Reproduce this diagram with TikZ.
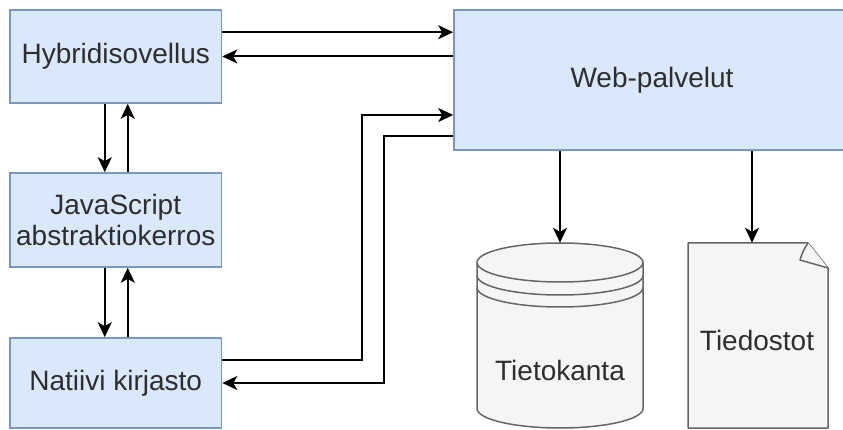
\documentclass[tikz,border=0pt]{standalone}
\usepackage{fontspec}
\setmainfont{Liberation Sans}
\usetikzlibrary{arrows.meta,calc}

\definecolor{boxfill}{HTML}{DAE8FC}
\definecolor{boxline}{HTML}{7C96BD}
\definecolor{storefill}{HTML}{F5F5F5}
\definecolor{storeline}{HTML}{666666}
\definecolor{ink}{HTML}{2E2E2E}

\begin{document}
\begin{tikzpicture}[x=1pt,y=-1pt,
  txt/.style={text=ink, font=\fontsize{28}{31}\selectfont, align=center, inner sep=0pt},
  box/.style={txt, draw=boxline, fill=boxfill, line width=1.6pt},
  anchorbox/.style={inner sep=0pt},
  store/.style={draw=storeline, fill=storefill, line width=1.5pt, line join=round},
  conn/.style={draw=black, line width=2pt,
    -{Stealth[length=15pt, width=14pt, inset=4pt]}}]

\useasboundingbox (0,0) rectangle (843,430);
\clip (0,0) rectangle (843,430);

% left column: app, abstraction layer, native library
\node[box, minimum width=211.5pt, minimum height=93pt] (hyb) at (115.75,56.5) {Hybridisovellus};
\node[box, minimum width=211.5pt, minimum height=94pt] (js) at (115.75,220) {JavaScript\\abstraktiokerros};
\node[box, minimum width=211.5pt, minimum height=90pt] (nat) at (115.75,383) {Natiivi kirjasto};

% web services (runs past the right edge)
\node[box, minimum width=396pt, minimum height=140pt] (web) at (652,80) {Web-palvelut};

% frames for the two stores
\node[anchorbox, minimum width=166pt, minimum height=185pt] (db) at (560,335.5) {};
\node[anchorbox, minimum width=140pt, minimum height=185pt] (doc) at (758,335.5) {};

% database cylinder
\draw[store] (477,262.5) -- (477,408.5)
  arc[start angle=180, end angle=360, x radius=83pt, y radius=19.5pt]
  -- (643,262.5)
  arc[start angle=0, end angle=180, x radius=83pt, y radius=19.5pt] -- cycle;
\draw[store, fill=none] (477,262.5)
  arc[start angle=180, end angle=360, x radius=83pt, y radius=19.5pt];
\draw[store, fill=none] (477,275.5)
  arc[start angle=180, end angle=360, x radius=83pt, y radius=19.5pt];
\draw[store, fill=none] (477,287.5)
  arc[start angle=180, end angle=360, x radius=83pt, y radius=19.5pt];
\node[txt] (dbtext) at (560,370) {Tietokanta};

% file document with folded corner
\draw[store] (688,243) -- (808,243) -- (828,268) -- (828,428) -- (688,428) -- cycle;
\draw[store] (808,243) .. controls (803,251) .. (800,260) -- (828,268);
\node[txt] (doctext) at (757,340) {Tiedostot};

% app <-> web services
\draw[conn] ([yshift=-23pt]hyb.north east) -- ([yshift=-23pt]hyb.north east -| web.west);
\draw[conn] (hyb.east -| web.west) -- (hyb.east);

% vertical links in the left column
\draw[conn] ([xshift=-11pt]hyb.south) -- ([xshift=-11pt]hyb.south |- js.north);
\draw[conn] ([xshift=12pt]js.north) -- ([xshift=12pt]js.north |- hyb.south);
\draw[conn] ([xshift=-11pt]js.south) -- ([xshift=-11pt]js.south |- nat.north);
\draw[conn] ([xshift=12pt]nat.north) -- ([xshift=12pt]nat.north |- js.south);

% native library <-> web services
\draw[conn] ([yshift=23pt]nat.east) -- ++(139.5,0) |- ([yshift=-35pt]web.west);
\draw[conn] ([yshift=-56pt]web.west) -- ++(-69,0) |- (nat.east);

% web services -> stores
\draw[conn] (db.north |- web.south) -- (db.north);
\draw[conn] ([xshift=-6pt]doc.north |- web.south) -- ([xshift=-6pt]doc.north);
\end{tikzpicture}
\end{document}
